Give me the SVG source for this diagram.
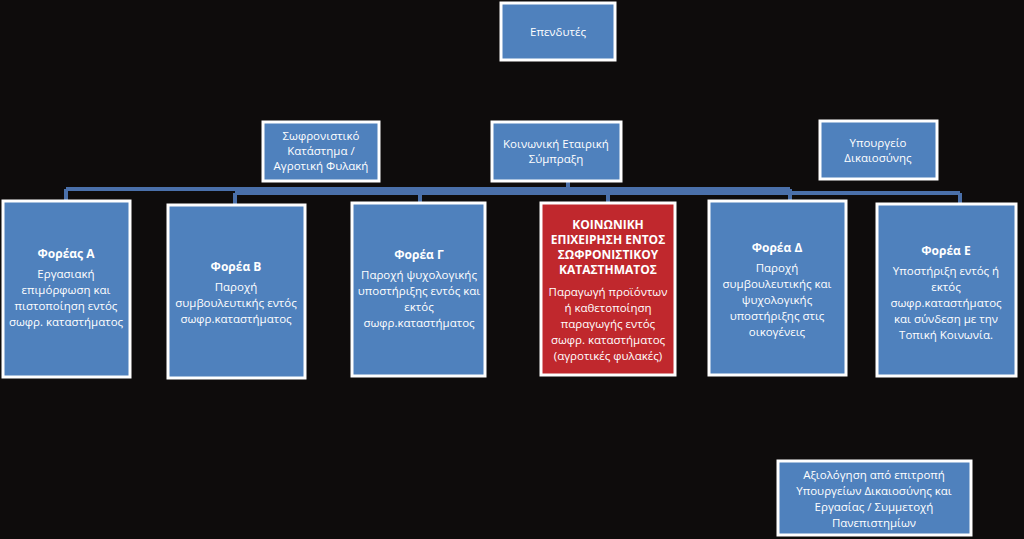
<svg xmlns="http://www.w3.org/2000/svg" width="1024" height="539" viewBox="0 0 1024 539">
<style>
.b{fill:#4f81bd;stroke:#fff;stroke-width:3}
.r{fill:#c0282d;stroke:#fff;stroke-width:3}
text{font-family:"Open Sans","Liberation Sans",sans-serif;font-size:11.5px;fill:#fff;text-anchor:middle}
.h{font-weight:bold;font-size:12px}
.c{fill:none;stroke:#4a70aa;stroke-width:4}
</style>
<rect width="1024" height="539" fill="#0e0c0c"/>
<g id="connectors">
<path class="c" d="M568 181V189M66 189H790M235 193H960M66 189V201M235 193V205M420 189V203M608 193V203M790 189V201M960 193V204"/>
</g>
<g id="n0"><rect class="b" x="501" y="3" width="114" height="57"/><text x="558" y="36">Επενδυτές</text></g>
<g id="n1"><rect class="b" x="263" y="122" width="116" height="59"/><text x="321" y="140">Σωφρονιστικό</text><text x="321" y="155">Κατάστημα /</text><text x="321" y="170">Αγροτική Φυλακή</text></g>
<g id="n2"><rect class="b" x="492" y="122" width="129" height="59"/><text x="556" y="148">Κοινωνική Εταιρική</text><text x="556" y="163">Σύμπραξη</text></g>
<g id="n3"><rect class="b" x="820" y="121" width="117" height="58"/><text x="878" y="147">Υπουργείο</text><text x="878" y="162">Δικαιοσύνης</text></g>
<g id="nA"><rect class="b" x="3" y="201" width="127" height="176"/><text class="h" x="66" y="258">Φορέας Α</text><text x="66" y="278">Εργασιακή</text><text x="66" y="294">επιμόρφωση και</text><text x="66" y="310">πιστοποίηση εντός</text><text x="66" y="326">σωφρ. καταστήματος</text></g>
<g id="nB"><rect class="b" x="168" y="205" width="137" height="173"/><text class="h" x="236" y="271">Φορέα Β</text><text x="236" y="291">Παροχή</text><text x="236" y="307">συμβουλευτικής εντός</text><text x="236" y="323">σωφρ.καταστήματος</text></g>
<g id="nG"><rect class="b" x="352" y="203" width="133" height="173"/><text class="h" x="419" y="259">Φορέα Γ</text><text x="419" y="279">Παροχή ψυχολογικής</text><text x="419" y="295">υποστήριξης εντός και</text><text x="419" y="311">εκτός</text><text x="419" y="327">σωφρ.καταστήματος</text></g>
<g id="nR"><rect class="r" x="541" y="203" width="134" height="172"/><text class="h" x="608" y="229">ΚΟΙΝΩΝΙΚΗ</text><text class="h" x="608" y="244">ΕΠΙΧΕΙΡΗΣΗ ΕΝΤΟΣ</text><text class="h" x="608" y="259">ΣΩΦΡΟΝΙΣΤΙΚΟΥ</text><text class="h" x="608" y="274">ΚΑΤΑΣΤΗΜΑΤΟΣ</text><text x="608" y="296">Παραγωγή προϊόντων</text><text x="608" y="312">ή καθετοποίηση</text><text x="608" y="328">παραγωγής εντός</text><text x="608" y="344">σωφρ. καταστήματος</text><text x="608" y="360">(αγροτικές φυλακές)</text></g>
<g id="nD"><rect class="b" x="709" y="201" width="137" height="174"/><text class="h" x="777" y="252">Φορέα Δ</text><text x="777" y="272">Παροχή</text><text x="777" y="288">συμβουλευτικής  και</text><text x="777" y="304">ψυχολογικής</text><text x="777" y="320">υποστήριξης στις</text><text x="777" y="336">οικογένεις</text></g>
<g id="nE"><rect class="b" x="877" y="204" width="139" height="172"/><text class="h" x="946" y="255">Φορέα Ε</text><text x="946" y="275">Υποστήριξη εντός ή</text><text x="946" y="291">εκτός</text><text x="946" y="307">σωφρ.καταστήματος</text><text x="946" y="323">και σύνδεση με την</text><text x="946" y="339">Τοπική Κοινωνία.</text></g>
<g id="nF"><rect class="b" x="778" y="461" width="193" height="74"/><text x="874" y="479">Αξιολόγηση από επιτροπή</text><text x="874" y="495">Υπουργείων Δικαιοσύνης και</text><text x="874" y="511">Εργασίας / Συμμετοχή</text><text x="874" y="527">Πανεπιστημίων</text></g>
</svg>
